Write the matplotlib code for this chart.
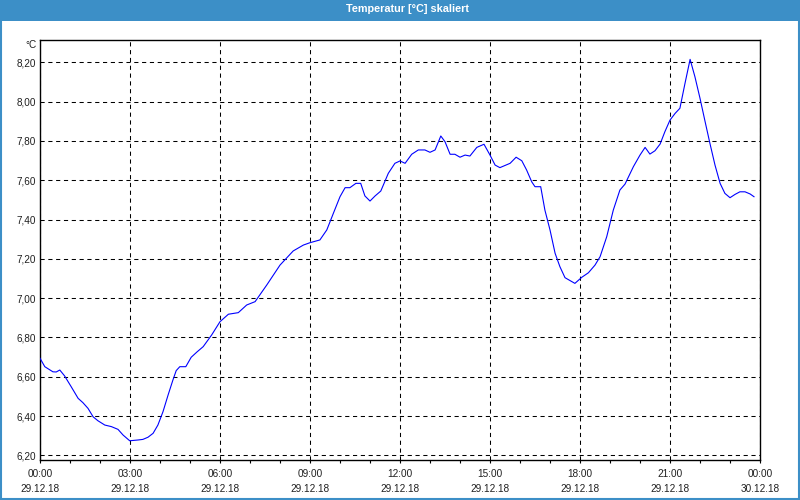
import matplotlib
matplotlib.use("Agg")
import matplotlib.pyplot as plt
from matplotlib.ticker import MultipleLocator, FixedLocator, FixedFormatter
from matplotlib.patches import Rectangle

title = "Temperatur [°C] skaliert"
unit = "°C"

hours = [0.00, 0.16, 0.43, 0.54, 0.66, 0.82, 1.04, 1.27, 1.43, 1.60, 1.77, 1.93,
         2.16, 2.38, 2.60, 2.77, 2.99, 3.27, 3.43, 3.60, 3.77, 3.93, 4.10, 4.27,
         4.43, 4.54, 4.66, 4.86, 5.04, 5.24, 5.44, 5.72, 6.00, 6.28, 6.61, 6.89,
         7.17, 7.56, 8.00, 8.44, 8.78, 9.00, 9.33, 9.56, 9.78, 10.00, 10.17, 10.33,
         10.53, 10.69, 10.83, 11.00, 11.17, 11.36, 11.61, 11.83, 12.00, 12.17, 12.39,
         12.61, 12.83, 13.00, 13.17, 13.36, 13.50, 13.67, 13.83, 14.00, 14.17, 14.33,
         14.56, 14.80, 15.00, 15.17, 15.33, 15.67, 15.87, 16.06, 16.22, 16.39, 16.50,
         16.69, 16.83, 17.00, 17.17, 17.33, 17.50, 17.67, 17.83, 18.06, 18.28, 18.50,
         18.67, 18.89, 19.11, 19.33, 19.50, 19.78, 20.00, 20.17, 20.33, 20.50, 20.67,
         20.83, 21.00, 21.17, 21.33, 21.50, 21.67, 21.83, 22.00, 22.17, 22.33, 22.50,
         22.67, 22.83, 23.00, 23.17, 23.33, 23.50, 23.67, 23.80]
temps = [6.694, 6.651, 6.625, 6.624, 6.634, 6.604, 6.549, 6.490, 6.468, 6.439, 6.396, 6.376,
         6.354, 6.346, 6.332, 6.303, 6.274, 6.278, 6.281, 6.292, 6.312, 6.354, 6.422, 6.507,
         6.583, 6.631, 6.651, 6.651, 6.699, 6.727, 6.753, 6.812, 6.880, 6.918, 6.926, 6.965,
         6.982, 7.067, 7.168, 7.240, 7.270, 7.282, 7.296, 7.347, 7.432, 7.516, 7.562, 7.562,
         7.584, 7.584, 7.520, 7.494, 7.520, 7.545, 7.635, 7.686, 7.698, 7.686, 7.732,
         7.754, 7.754, 7.742, 7.754, 7.825, 7.796, 7.732, 7.732, 7.717, 7.728, 7.723,
         7.767, 7.783, 7.728, 7.677, 7.664, 7.686, 7.717, 7.699, 7.652, 7.592, 7.567,
         7.567, 7.448, 7.347, 7.228, 7.160, 7.104, 7.089, 7.075, 7.106, 7.129, 7.168,
         7.211, 7.312, 7.448, 7.550, 7.580, 7.669, 7.728, 7.767, 7.733, 7.750, 7.784,
         7.847, 7.906, 7.940, 7.966, 8.093, 8.215, 8.127, 8.017, 7.898, 7.788, 7.677,
         7.584, 7.533, 7.511, 7.528, 7.541, 7.541, 7.530, 7.516]

x_tick_pos = [0, 3, 6, 9, 12, 15, 18, 21, 24]
x_tick_labels = ["00:00\n29.12.18", "03:00\n29.12.18", "06:00\n29.12.18",
                 "09:00\n29.12.18", "12:00\n29.12.18", "15:00\n29.12.18",
                 "18:00\n29.12.18", "21:00\n29.12.18", "00:00\n30.12.18"]
y_ticks = [6.2, 6.4, 6.6, 6.8, 7.0, 7.2, 7.4, 7.6, 7.8, 8.0, 8.2]
y_tick_labels = ["6,20", "6,40", "6,60", "6,80", "7,00", "7,20", "7,40",
                 "7,60", "7,80", "8,00", "8,20"]

plt.rcParams['font.family'] = ['Liberation Sans', 'DejaVu Sans']

fig = plt.figure(figsize=(8, 5), dpi=100, facecolor='white')

# title bar
fig.patches.append(Rectangle((0, 1 - 20.7 / 500), 1, 20.7 / 500, transform=fig.transFigure,
                             facecolor='#3c8fc7', edgecolor='none', zorder=0))
# blue frame
fig.patches.append(Rectangle((0.001, 0.002), 0.998, 0.996, transform=fig.transFigure,
                             facecolor='none', edgecolor='#3c8fc7', linewidth=1.5, zorder=1))
fig.text(0.509, 1 - 9.5 / 500, title, color='white', fontsize=7.8, fontweight='bold',
         ha='center', va='center')

ax = fig.add_axes([40 / 800, 39.7 / 500, 720 / 800, 420 / 500])
ax.plot(hours, temps, color='#0000ff', linewidth=0.8, zorder=3)

ax.set_xlim(0, 24)
ax.set_ylim(6.1746, 8.312)

ax.xaxis.set_major_locator(FixedLocator(x_tick_pos))
ax.xaxis.set_major_formatter(FixedFormatter(x_tick_labels))
ax.xaxis.set_minor_locator(MultipleLocator(1))
ax.yaxis.set_major_locator(FixedLocator(y_ticks))
ax.yaxis.set_major_formatter(FixedFormatter(y_tick_labels))

ax.tick_params(axis='x', which='both', direction='out', length=2.3, width=0.8,
               color='black', pad=4.2, labelsize=7.2, labelcolor='#202020')
ax.tick_params(axis='y', which='both', length=0, pad=3, labelsize=7.2, labelcolor='#202020')
for lab in ax.get_xticklabels():
    lab.set_linespacing(1.55)

ax.grid(True, which='major', color='black', linestyle=(0, (4, 3.5)), linewidth=0.75, zorder=1)
for s in ax.spines.values():
    s.set_color('black')
    s.set_linewidth(1.0)

fig.text(37 / 800, 1 - 45 / 500, unit, fontsize=7.2, color='#202020', ha='right', va='center')

fig.savefig('out.png', dpi=100, facecolor='white')
